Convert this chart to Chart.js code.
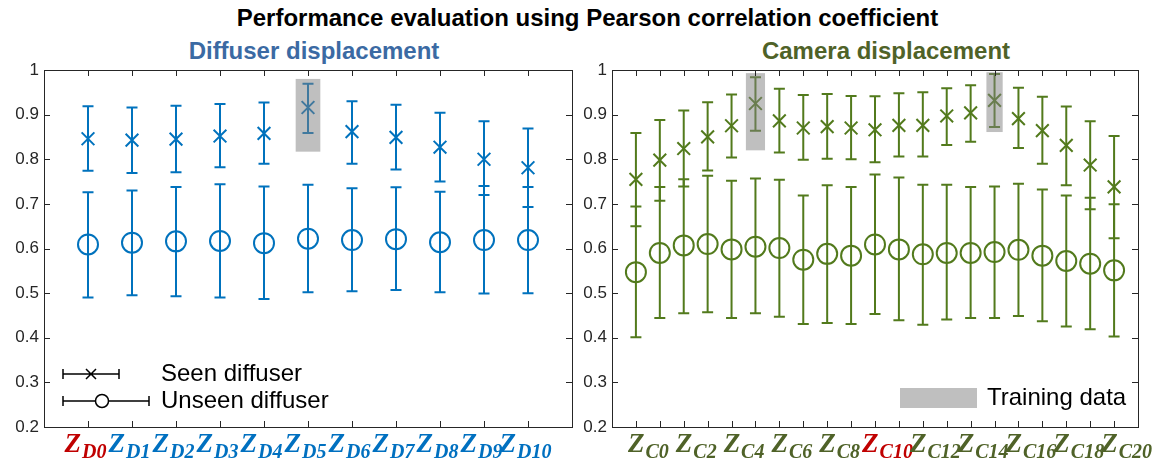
<!DOCTYPE html>
<html>
<head>
<meta charset="utf-8">
<script src="https://cdn.jsdelivr.net/npm/chart.js@4.4.1/dist/chart.umd.min.js"></script>
<style>
  html, body { margin: 0; padding: 0; background: #fff; }
  #wrap { position: relative; width: 1175px; height: 465px; overflow: hidden; }
  canvas { position: absolute; top: 0; }
  .ttl { position: absolute; text-align: center; font-family: "Liberation Sans", Arial, sans-serif; font-weight: bold; white-space: nowrap; }
</style>
</head>
<body>
<div id="wrap">
  <div class="ttl" style="left:0;width:1175px;top:4px;font-size:24px;line-height:28px;color:#000;">Performance evaluation using Pearson correlation coefficient</div>
  <div class="ttl" style="left:114px;width:400px;top:37px;font-size:24px;line-height:28px;color:#3b6aa3;">Diffuser displacement</div>
  <div class="ttl" style="left:686px;width:400px;top:37px;font-size:24px;line-height:28px;color:#4f6228;">Camera displacement</div>
  <canvas id="diffuser-chart" width="590" height="465" style="left:0;"></canvas>
  <canvas id="camera-chart" width="603" height="465" style="left:572px;"></canvas>
</div>
<script>
(function () {
  'use strict';

  // ---- data ----
  const yTicks = [0.2, 0.3, 0.4, 0.5, 0.6, 0.7, 0.8, 0.9, 1];
  const yTickLabels = ['0.2', '0.3', '0.4', '0.5', '0.6', '0.7', '0.8', '0.9', '1'];

  // diffuser displacement, Z_D0 .. Z_D10
  const diffuserLabels = ['D0', 'D1', 'D2', 'D3', 'D4', 'D5', 'D6', 'D7', 'D8', 'D9', 'D10'];
  const diffuserSeen = [0.846, 0.843, 0.845, 0.852, 0.858, 0.916, 0.862, 0.849, 0.827, 0.800, 0.781];
  const diffuserSeenLow = [0.774, 0.769, 0.771, 0.782, 0.790, 0.859, 0.790, 0.777, 0.750, 0.720, 0.693];
  const diffuserSeenHigh = [0.919, 0.916, 0.920, 0.924, 0.927, 0.969, 0.930, 0.922, 0.904, 0.885, 0.869];
  const diffuserUnseen = [0.609, 0.613, 0.616, 0.617, 0.612, 0.622, 0.619, 0.621, 0.614, 0.619, 0.619];
  const diffuserUnseenLow = [0.490, 0.495, 0.493, 0.490, 0.487, 0.502, 0.504, 0.507, 0.502, 0.499, 0.500];
  const diffuserUnseenHigh = [0.726, 0.730, 0.738, 0.744, 0.739, 0.743, 0.735, 0.737, 0.727, 0.740, 0.738];
  const diffuserTraining = [[4.72, 5.28, 0.817, 0.980]];
  const diffuserRedLabel = 0;

  // camera displacement, Z_C0 .. Z_C20 (labels on even positions)
  const cameraLabels = ['C0', '', 'C2', '', 'C4', '', 'C6', '', 'C8', '', 'C10', '', 'C12', '', 'C14', '', 'C16', '', 'C18', '', 'C20'];
  const cameraSeen = [0.755, 0.798, 0.824, 0.850, 0.875, 0.925, 0.886, 0.870, 0.873, 0.870, 0.866, 0.876, 0.876, 0.897, 0.904, 0.932, 0.891, 0.864, 0.831, 0.787, 0.738];
  const cameraSeenLow = [0.650, 0.707, 0.739, 0.775, 0.804, 0.864, 0.815, 0.799, 0.801, 0.800, 0.793, 0.806, 0.806, 0.832, 0.839, 0.872, 0.825, 0.790, 0.742, 0.688, 0.623];
  const cameraSeenHigh = [0.859, 0.888, 0.909, 0.928, 0.945, 0.984, 0.958, 0.944, 0.946, 0.942, 0.941, 0.948, 0.950, 0.959, 0.966, 0.991, 0.960, 0.940, 0.918, 0.885, 0.852];
  const cameraUnseen = [0.547, 0.590, 0.607, 0.610, 0.598, 0.604, 0.601, 0.575, 0.588, 0.584, 0.609, 0.598, 0.587, 0.590, 0.590, 0.592, 0.597, 0.584, 0.572, 0.566, 0.551];
  const cameraUnseenLow = [0.401, 0.444, 0.455, 0.457, 0.444, 0.455, 0.447, 0.431, 0.433, 0.431, 0.453, 0.439, 0.429, 0.441, 0.444, 0.444, 0.449, 0.437, 0.425, 0.419, 0.403];
  const cameraUnseenHigh = [0.694, 0.738, 0.755, 0.763, 0.752, 0.757, 0.754, 0.719, 0.742, 0.738, 0.766, 0.759, 0.743, 0.743, 0.738, 0.739, 0.745, 0.732, 0.719, 0.714, 0.699];
  const cameraTraining = [[4.6, 5.4, 0.820, 0.993], [14.66, 15.34, 0.861, 0.995]];
  const cameraRedLabel = 10;

  const axisColor = '#262626';
  const sansFont = '"Liberation Sans", Arial, sans-serif';
  const serifFont = '"Liberation Serif", "Times New Roman", serif';

  const toPoints = arr => arr.map((v, i) => ({ x: i, y: v }));

  // error bars under the markers
  const errorBars = {
    id: 'errorBars',
    beforeDatasetsDraw(chart) {
      const ctx = chart.ctx;
      const xs = chart.scales.x, ys = chart.scales.y;
      chart.data.datasets.forEach(ds => {
        ctx.save();
        ctx.strokeStyle = ds.borderColor;
        ctx.lineWidth = 2;
        ds.data.forEach((p, i) => {
          const px = xs.getPixelForValue(p.x);
          const top = ys.getPixelForValue(ds.high[i]);
          const bot = ys.getPixelForValue(ds.low[i]);
          ctx.beginPath();
          ctx.moveTo(px, top); ctx.lineTo(px, bot);
          ctx.moveTo(px - 5.5, top); ctx.lineTo(px + 5.5, top);
          ctx.moveTo(px - 5.5, bot); ctx.lineTo(px + 5.5, bot);
          ctx.stroke();
        });
        ctx.restore();
      });
    }
  };

  function drawZ(ctx, cx, sub, color) {
    ctx.font = 'bold italic 27px ' + serifFont;
    const wz = ctx.measureText('Z').width;
    ctx.font = 'bold italic 20px ' + serifFont;
    const ws = ctx.measureText(sub).width;
    const x0 = cx - (wz + ws) / 2;
    ctx.fillStyle = color;
    ctx.textAlign = 'left';
    ctx.textBaseline = 'alphabetic';
    ctx.font = 'bold italic 27px ' + serifFont;
    ctx.fillText('Z', x0, 452);
    ctx.font = 'bold italic 20px ' + serifFont;
    ctx.fillText(sub, x0 + wz + 1, 458);
  }

  // training boxes, frame, inner ticks, category labels, legend
  function panelPlugin(cfg) {
    return {
      id: 'panel',
      afterDatasetsDraw(chart) {
        const ctx = chart.ctx;
        const xs = chart.scales.x, ys = chart.scales.y;
        ctx.save();
        ctx.fillStyle = 'rgba(128, 128, 128, 0.5)';
        cfg.training.forEach(b => {
          const x0 = xs.getPixelForValue(b[0]), x1 = xs.getPixelForValue(b[1]);
          const y0 = ys.getPixelForValue(b[2]), y1 = ys.getPixelForValue(b[3]);
          ctx.fillRect(x0, y1, x1 - x0, y0 - y1);
        });
        ctx.restore();
      },
      afterDraw(chart) {
        const ctx = chart.ctx;
        const a = chart.chartArea;
        const xs = chart.scales.x, ys = chart.scales.y;
        ctx.save();
        ctx.strokeStyle = axisColor;
        ctx.lineWidth = 1;
        ctx.strokeRect(Math.round(a.left) + 0.5, Math.round(a.top) + 0.5, Math.round(a.right - a.left), Math.round(a.bottom - a.top));
        ctx.beginPath();
        yTicks.forEach(v => {
          const py = Math.round(ys.getPixelForValue(v)) + 0.5;
          ctx.moveTo(a.left, py); ctx.lineTo(a.left + 6, py);
          ctx.moveTo(a.right, py); ctx.lineTo(a.right - 6, py);
        });
        cfg.labels.forEach((l, i) => {
          const px = Math.round(xs.getPixelForValue(i)) + 0.5;
          ctx.moveTo(px, a.bottom); ctx.lineTo(px, a.bottom - 6);
          ctx.moveTo(px, a.top); ctx.lineTo(px, a.top + 6);
        });
        ctx.stroke();

        cfg.labels.forEach((l, i) => {
          if (!l) return;
          const color = i === cfg.red ? '#c00000' : cfg.labelColor;
          drawZ(ctx, xs.getPixelForValue(i) + cfg.labelShift, l, color);
        });
        cfg.legend(ctx);
        ctx.restore();
      }
    };
  }

  function makeChart(id, cfg) {
    return new Chart(document.getElementById(id), {
      type: 'scatter',
      data: {
        datasets: [
          {
            label: cfg.seenName,
            data: toPoints(cfg.seen),
            low: cfg.seenLow,
            high: cfg.seenHigh,
            pointStyle: 'crossRot',
            pointRadius: 9,
            pointBorderWidth: 2,
            borderColor: cfg.color,
            backgroundColor: 'rgba(0,0,0,0)',
            showLine: false
          },
          {
            label: cfg.unseenName,
            data: toPoints(cfg.unseen),
            low: cfg.unseenLow,
            high: cfg.unseenHigh,
            pointStyle: 'circle',
            pointRadius: 10,
            pointBorderWidth: 2,
            borderColor: cfg.color,
            backgroundColor: 'rgba(0,0,0,0)',
            showLine: false
          }
        ]
      },
      options: {
        responsive: false,
        animation: false,
        events: [],
        layout: { padding: { left: 0, right: cfg.padRight, top: 70, bottom: 0 } },
        scales: {
          x: {
            type: 'linear',
            min: -1,
            max: cfg.labels.length,
            grid: { display: false, drawTicks: false },
            border: { display: false },
            ticks: { display: false },
            afterFit: s => { s.height = 38; }
          },
          y: {
            type: 'linear',
            min: 0.2,
            max: 1,
            grid: { display: false, drawTicks: false },
            border: { display: false },
            afterBuildTicks: s => { s.ticks = yTicks.map(v => ({ value: v })); },
            afterFit: s => { s.width = cfg.yWidth; },
            ticks: {
              padding: 5,
              color: axisColor,
              font: { family: sansFont, size: 17 },
              callback: (v, i) => yTickLabels[i]
            }
          }
        },
        plugins: {
          legend: { display: false },
          tooltip: { enabled: false }
        }
      },
      plugins: [errorBars, panelPlugin(cfg)]
    });
  }

  makeChart('diffuser-chart', {
    labels: diffuserLabels,
    seen: diffuserSeen, seenLow: diffuserSeenLow, seenHigh: diffuserSeenHigh,
    unseen: diffuserUnseen, unseenLow: diffuserUnseenLow, unseenHigh: diffuserUnseenHigh,
    seenName: 'Seen diffuser', unseenName: 'Unseen diffuser',
    training: diffuserTraining,
    red: diffuserRedLabel,
    color: '#0072bd',
    labelColor: '#0070c0',
    labelShift: -3,
    yWidth: 44,
    padRight: 18,
    legend: function (ctx) {
      ctx.strokeStyle = '#000';
      ctx.lineWidth = 1.5;
      ctx.beginPath();
      // seen: line with caps and x marker
      ctx.moveTo(63, 374); ctx.lineTo(119, 374);
      ctx.moveTo(63, 369); ctx.lineTo(63, 379);
      ctx.moveTo(119, 369); ctx.lineTo(119, 379);
      ctx.moveTo(86, 369); ctx.lineTo(96, 379);
      ctx.moveTo(96, 369); ctx.lineTo(86, 379);
      // unseen: line with caps and circle
      ctx.moveTo(63, 401); ctx.lineTo(149, 401);
      ctx.moveTo(63, 396); ctx.lineTo(63, 406);
      ctx.moveTo(149, 396); ctx.lineTo(149, 406);
      ctx.stroke();
      ctx.fillStyle = '#fff';
      ctx.beginPath();
      ctx.arc(102, 401, 6.5, 0, Math.PI * 2);
      ctx.fill();
      ctx.stroke();
      ctx.fillStyle = '#000';
      ctx.font = '24px ' + sansFont;
      ctx.textAlign = 'left';
      ctx.textBaseline = 'middle';
      ctx.fillText('Seen diffuser', 161, 374);
      ctx.fillText('Unseen diffuser', 161, 401);
    }
  });

  makeChart('camera-chart', {
    labels: cameraLabels,
    seen: cameraSeen, seenLow: cameraSeenLow, seenHigh: cameraSeenHigh,
    unseen: cameraUnseen, unseenLow: cameraUnseenLow, unseenHigh: cameraUnseenHigh,
    seenName: 'Seen', unseenName: 'Unseen',
    training: cameraTraining,
    red: cameraRedLabel,
    color: '#527a1c',
    labelColor: '#4f6228',
    labelShift: 12,
    yWidth: 40,
    padRight: 37,
    legend: function (ctx) {
      ctx.fillStyle = '#bfbfbf';
      ctx.fillRect(328, 388, 77, 20);
      ctx.fillStyle = '#000';
      ctx.font = '24px ' + sansFont;
      ctx.textAlign = 'left';
      ctx.textBaseline = 'middle';
      ctx.fillText('Training data', 415, 398);
    }
  });
})();
</script>
</body>
</html>
